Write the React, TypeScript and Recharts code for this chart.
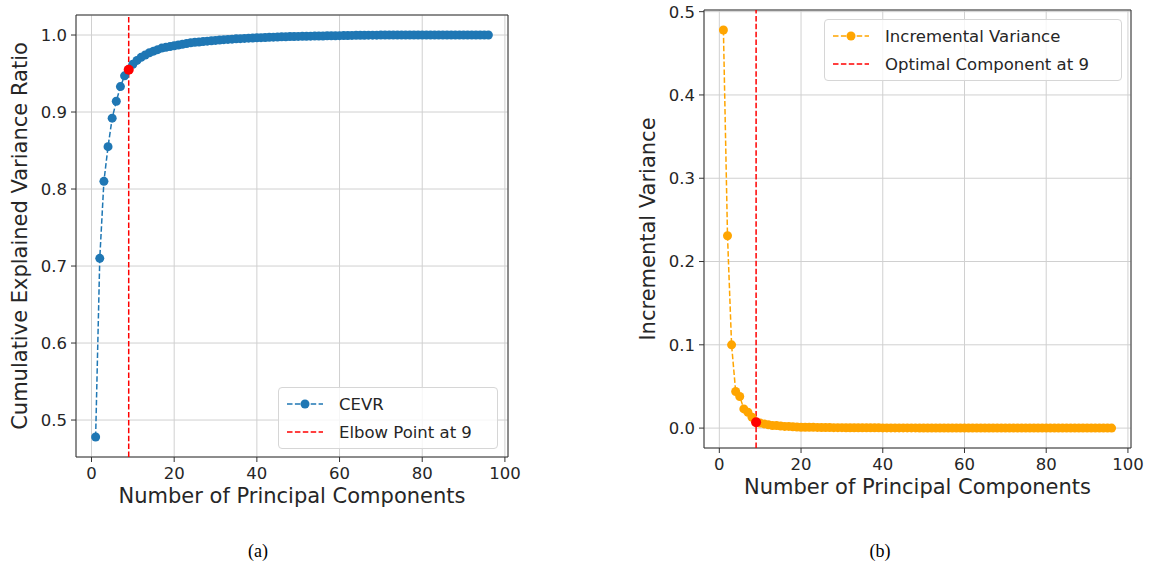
import {
  CartesianGrid,
  Legend,
  Line,
  LineChart,
  ReferenceArea,
  ReferenceLine,
  XAxis,
  YAxis,
} from "recharts";

// principal component index, 1..96
const components = Array.from({ length: 96 }, (_, i) => i + 1);

const cevr = [
  0.478, 0.71, 0.81, 0.855, 0.892, 0.914, 0.933, 0.947, 0.955, 0.962,
  0.967, 0.971, 0.974, 0.977, 0.979, 0.981, 0.983, 0.984, 0.985, 0.986,
  0.987, 0.988, 0.989, 0.99, 0.9905, 0.991, 0.9915, 0.992, 0.9925, 0.993,
  0.9935, 0.994, 0.9943, 0.9946, 0.995, 0.9953, 0.9956, 0.9959, 0.9962, 0.9964,
  0.9966, 0.9968, 0.997, 0.9972, 0.9974, 0.9976, 0.9978, 0.998, 0.9981, 0.9982,
  0.9983, 0.9984, 0.9985, 0.9986, 0.9987, 0.9988, 0.9989, 0.999, 0.9991, 0.9992,
  0.9993, 0.9994, 0.9995, 0.9996, 0.9997, 0.9997, 0.9998, 0.9998, 0.9998, 0.9999,
  0.9999, 0.9999, 0.9999, 0.9999, 1.0, 1.0, 1.0, 1.0, 1.0, 1.0,
  1.0, 1.0, 1.0, 1.0, 1.0, 1.0, 1.0, 1.0, 1.0, 1.0,
  1.0, 1.0, 1.0, 1.0, 1.0, 1.0,
];

const incremental = [
  0.478, 0.231, 0.1, 0.044, 0.038, 0.023, 0.019, 0.013, 0.007, 0.006,
  0.005, 0.004, 0.003, 0.003, 0.0025, 0.002, 0.002, 0.0015, 0.0012, 0.001,
  0.001, 0.001, 0.0009, 0.0008, 0.0007, 0.0006, 0.0006, 0.0005, 0.0005, 0.0005,
  0.0004, 0.0004, 0.0004, 0.0003, 0.0003, 0.0003, 0.0003, 0.0003, 0.0003, 0.0002,
  0.0002, 0.0002, 0.0002, 0.0002, 0.0002, 0.0002, 0.0002, 0.0002, 0.0001, 0.0001,
  0.0001, 0.0001, 0.0001, 0.0001, 0.0001, 0.0001, 0.0001, 0.0001, 0.0001, 0.0001,
  0.0001, 0.0001, 0.0001, 0.0001, 0.0001, 0.0, 0.0001, 0.0, 0.0, 0.0,
  0.0, 0.0, 0.0, 0.0, 0.0, 0.0, 0.0, 0.0, 0.0, 0.0,
  0.0, 0.0, 0.0, 0.0, 0.0, 0.0, 0.0, 0.0, 0.0, 0.0,
  0.0, 0.0, 0.0, 0.0, 0.0, 0.0,
];

const xTicks = [0, 20, 40, 60, 80, 100];
const cevrTicks = [0.5, 0.6, 0.7, 0.8, 0.9, 1.0];
const incTicks = [0, 0.1, 0.2, 0.3, 0.4, 0.5];
const optimal = 9;

// the highlighted point only carries a value at the optimal component
const cevrData = components.map((c, i) => ({
  n: c,
  value: cevr[i],
  pick: c === optimal ? cevr[i] : null,
}));
const incData = components.map((c, i) => ({
  n: c,
  value: incremental[i],
  pick: c === optimal ? incremental[i] : null,
}));

const BLUE = "#1f77b4";
const ORANGE = "#ffa500";
const RED = "#ff0000";
const FONT = "DejaVu Sans";
const DASH = "5.5 2.4";

const tickStyle = { fill: "#262626", fontSize: 16.5, fontFamily: FONT };
const labelStyle = { fill: "#262626", fontSize: 21, fontFamily: FONT, textAnchor: "middle" as const };

type Entry = { label: string; color: string; marker: boolean };

function LegendBox({ items, width }: { items: Entry[]; width: number }) {
  return (
    <div
      style={{
        width,
        boxSizing: "border-box",
        background: "rgba(255,255,255,0.8)",
        border: "1px solid #d6d6d6",
        borderRadius: 4,
        padding: "2px 8px",
        fontFamily: FONT,
        fontSize: 16.5,
        color: "#262626",
      }}
    >
      {items.map((it) => (
        <div key={it.label} style={{ display: "flex", alignItems: "center", height: 28 }}>
          <svg width={36} height={12} style={{ flex: "none" }}>
            <line x1={0} x2={36} y1={6} y2={6} stroke={it.color} strokeWidth={1.5} strokeDasharray={DASH} />
            {it.marker && <circle cx={18} cy={6} r={4.5} fill={it.color} />}
          </svg>
          <span style={{ marginLeft: 16, whiteSpace: "nowrap" }}>{it.label}</span>
        </div>
      ))}
    </div>
  );
}

export default function App() {
  const xDomain: [number, number] = [-3.75, 100.75];
  const cevrDomain: [number, number] = [0.452, 1.026];
  const incDomain: [number, number] = [-0.0239, 0.502];

  return (
    <div style={{ position: "absolute", left: 0, top: 0, width: 1155, height: 570, background: "#fff" }}>
      <div style={{ position: "absolute", left: 0, top: 0 }}>
        <LineChart width={530} height={520} data={cevrData} margin={{ top: 15, right: 22, bottom: 0, left: 0 }}>
          <CartesianGrid stroke="#d0d0d0" strokeWidth={1} />
          <XAxis
            dataKey="n"
            type="number"
            domain={xDomain}
            ticks={xTicks}
            allowDataOverflow
            height={63}
            tick={tickStyle}
            tickSize={5}
            tickMargin={5}
            tickLine={{ stroke: "#333" }}
            axisLine={false}
            label={{ value: "Number of Principal Components", position: "insideBottom", offset: 17, style: labelStyle }}
          />
          <YAxis
            type="number"
            domain={cevrDomain}
            ticks={cevrTicks}
            allowDataOverflow
            width={76}
            tick={tickStyle}
            tickSize={5}
            tickMargin={4}
            tickLine={{ stroke: "#333" }}
            axisLine={false}
            tickFormatter={(v: number) => v.toFixed(1)}
            label={{ value: "Cumulative Explained Variance Ratio", angle: -90, position: "insideLeft", offset: 20, style: labelStyle }}
          />
          <ReferenceArea x1={xDomain[0]} x2={xDomain[1]} y1={cevrDomain[0]} y2={cevrDomain[1]} fill="none" stroke="#333" strokeWidth={1} />
          <ReferenceLine x={optimal} stroke={RED} strokeWidth={1.5} strokeDasharray={DASH} />
          <Line
            type="linear"
            dataKey="value"
            stroke={BLUE}
            strokeWidth={1.5}
            strokeDasharray={DASH}
            dot={{ r: 4.5, fill: BLUE, stroke: BLUE, strokeWidth: 0 }}
            isAnimationActive={false}
          />
          <Line
            type="linear"
            dataKey="pick"
            stroke="none"
            dot={{ r: 5, fill: RED, stroke: RED, strokeWidth: 0 }}
            activeDot={false}
            isAnimationActive={false}
          />
          <Legend
            layout="horizontal"
            verticalAlign="middle"
            align="center"
            wrapperStyle={{ left: 278, top: 387, width: 220 }}
            content={() => (
              <LegendBox
                width={220}
                items={[
                  { label: "CEVR", color: BLUE, marker: true },
                  { label: "Elbow Point at 9", color: RED, marker: false },
                ]}
              />
            )}
          />
        </LineChart>
      </div>

      <div style={{ position: "absolute", left: 620, top: 0 }}>
        <LineChart width={535} height={520} data={incData} margin={{ top: 10, right: 24, bottom: 9, left: 0 }}>
          <CartesianGrid stroke="#d0d0d0" strokeWidth={1} />
          <XAxis
            dataKey="n"
            type="number"
            domain={xDomain}
            ticks={xTicks}
            allowDataOverflow
            height={63}
            tick={tickStyle}
            tickSize={5}
            tickMargin={5}
            tickLine={{ stroke: "#333" }}
            axisLine={false}
            label={{ value: "Number of Principal Components", position: "insideBottom", offset: 17, style: labelStyle }}
          />
          <YAxis
            type="number"
            domain={incDomain}
            ticks={incTicks}
            allowDataOverflow
            width={84}
            tick={tickStyle}
            tickSize={5}
            tickMargin={4}
            tickLine={{ stroke: "#333" }}
            axisLine={false}
            tickFormatter={(v: number) => v.toFixed(1)}
            label={{ value: "Incremental Variance", angle: -90, position: "insideLeft", offset: 28, style: labelStyle }}
          />
          <ReferenceArea x1={xDomain[0]} x2={xDomain[1]} y1={incDomain[0]} y2={incDomain[1]} fill="none" stroke="#333" strokeWidth={1} />
          <ReferenceLine x={optimal} stroke={RED} strokeWidth={1.5} strokeDasharray={DASH} />
          <Line
            type="linear"
            dataKey="value"
            stroke={ORANGE}
            strokeWidth={1.5}
            strokeDasharray={DASH}
            dot={{ r: 4.5, fill: ORANGE, stroke: ORANGE, strokeWidth: 0 }}
            isAnimationActive={false}
          />
          <Line
            type="linear"
            dataKey="pick"
            stroke="none"
            dot={{ r: 5, fill: RED, stroke: RED, strokeWidth: 0 }}
            activeDot={false}
            isAnimationActive={false}
          />
          <Legend
            layout="horizontal"
            verticalAlign="middle"
            align="center"
            wrapperStyle={{ left: 204, top: 19, width: 298 }}
            content={() => (
              <LegendBox
                width={298}
                items={[
                  { label: "Incremental Variance", color: ORANGE, marker: true },
                  { label: "Optimal Component at 9", color: RED, marker: false },
                ]}
              />
            )}
          />
        </LineChart>
      </div>

      <div style={{ position: "absolute", left: 238, top: 541, width: 40, textAlign: "center", fontFamily: "Liberation Serif", fontSize: 18, color: "#000" }}>
        (a)
      </div>
      <div style={{ position: "absolute", left: 860, top: 541, width: 40, textAlign: "center", fontFamily: "Liberation Serif", fontSize: 18, color: "#000" }}>
        (b)
      </div>
    </div>
  );
}
